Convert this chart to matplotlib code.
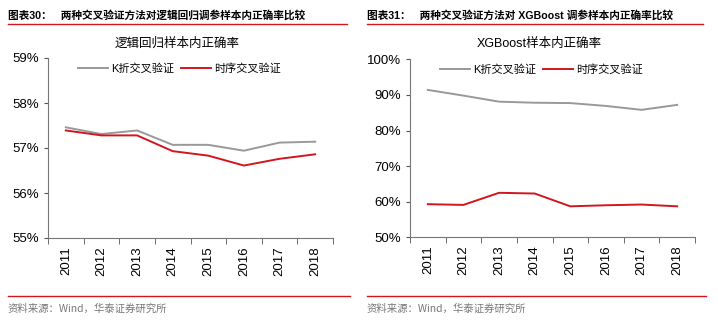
import matplotlib
matplotlib.use("Agg")
import matplotlib.pyplot as plt
from matplotlib.ticker import FuncFormatter, FixedLocator

plt.rcParams['font.family'] = ['Liberation Sans', 'Noto Sans CJK SC', 'DejaVu Sans']

years = ['2011', '2012', '2013', '2014', '2015', '2016', '2017', '2018']
lr_kfold = [57.46, 57.31, 57.39, 57.07, 57.07, 56.94, 57.12, 57.14]
lr_ts = [57.39, 57.28, 57.28, 56.93, 56.83, 56.61, 56.76, 56.86]
xgb_kfold = [91.4, 89.8, 88.1, 87.8, 87.7, 86.9, 85.8, 87.2]
xgb_ts = [59.3, 59.1, 62.5, 62.3, 58.7, 59.0, 59.2, 58.7]

W, H = 718, 322
fig = plt.figure(figsize=(W / 100, H / 100), dpi=100)

GREY = '#999999'
RED = '#d0161e'
CJK = ['Noto Sans CJK SC', 'DejaVu Sans']
MIX = ['Liberation Sans', 'Noto Sans CJK SC']


def panel(rect, kf, ts, ylim, yticks, title, header, hx0, hx1):
    ax = fig.add_axes(rect)
    x = list(range(len(years)))
    ax.plot(x, kf, color=GREY, lw=1.4, label='K折交叉验证')
    ax.plot(x, ts, color=RED, lw=1.4, label='时序交叉验证')
    ax.set_xlim(-0.5, len(years) - 0.5)
    ax.set_ylim(*ylim)
    ax.yaxis.set_major_locator(FixedLocator(yticks))
    ax.yaxis.set_major_formatter(FuncFormatter(lambda v, p: f'{v:.0f}%'))
    ax.set_xticks(x)
    ax.set_xticklabels(years, rotation=90, fontsize=9.5)
    ax.set_xticks([i - 0.5 for i in range(len(years) + 1)], minor=True)
    ax.tick_params(axis='x', which='major', length=0, pad=6)
    ax.tick_params(axis='x', which='minor', length=4, direction='out', color='#555555')
    ax.tick_params(axis='y', length=3, direction='out', labelsize=9.5, color='#555555')
    for s in ['top', 'right']:
        ax.spines[s].set_visible(False)
    for s in ['left', 'bottom']:
        ax.spines[s].set_color('#777777')
        ax.spines[s].set_linewidth(0.8)
    ax.legend(loc='upper center', bbox_to_anchor=(0.46, 1.03), ncol=2, frameon=False,
              prop={'family': MIX, 'size': 8}, handlelength=2.7,
              columnspacing=0.6, handletextpad=0.3)
    x0, x1 = rect[0], rect[0] + rect[2]
    fig.text((x0 + x1) / 2 - 13 / W, 1 - 44 / H, title, ha='center', va='center',
             fontsize=9, family=MIX)
    fig.text(hx0 / W, 1 - 15 / H, header, ha='left', va='center', fontsize=7.7,
             fontweight='bold', family=MIX)
    fig.add_artist(plt.Line2D([hx0 / W, hx1 / W], [1 - 24 / H, 1 - 24 / H], color=RED, lw=1.0))
    fig.add_artist(plt.Line2D([hx0 / W, (hx1 + 3) / W], [1 - 296 / H, 1 - 296 / H],
                              color=RED, lw=1.0))
    fig.text(hx0 / W, 1 - 309 / H, '资料来源：Wind，华泰证券研究所', ha='left', va='center',
             fontsize=7.5, color='#777777', family=CJK)
    return ax


panel([48 / W, 1 - 238 / H, 285 / W, 180 / H], lr_kfold, lr_ts, (55, 59), [55, 56, 57, 58, 59],
      '逻辑回归样本内正确率', '图表30：   两种交叉验证方法对逻辑回归调参样本内正确率比较', 8, 347)
panel([410 / W, 1 - 237.3 / H, 285 / W, 178 / H], xgb_kfold, xgb_ts, (50, 100),
      [50, 60, 70, 80, 90, 100],
      'XGBoost样本内正确率', '图表31：   两种交叉验证方法对 XGBoost 调参样本内正确率比较', 367, 703)

fig.savefig('out.png', dpi=100)
